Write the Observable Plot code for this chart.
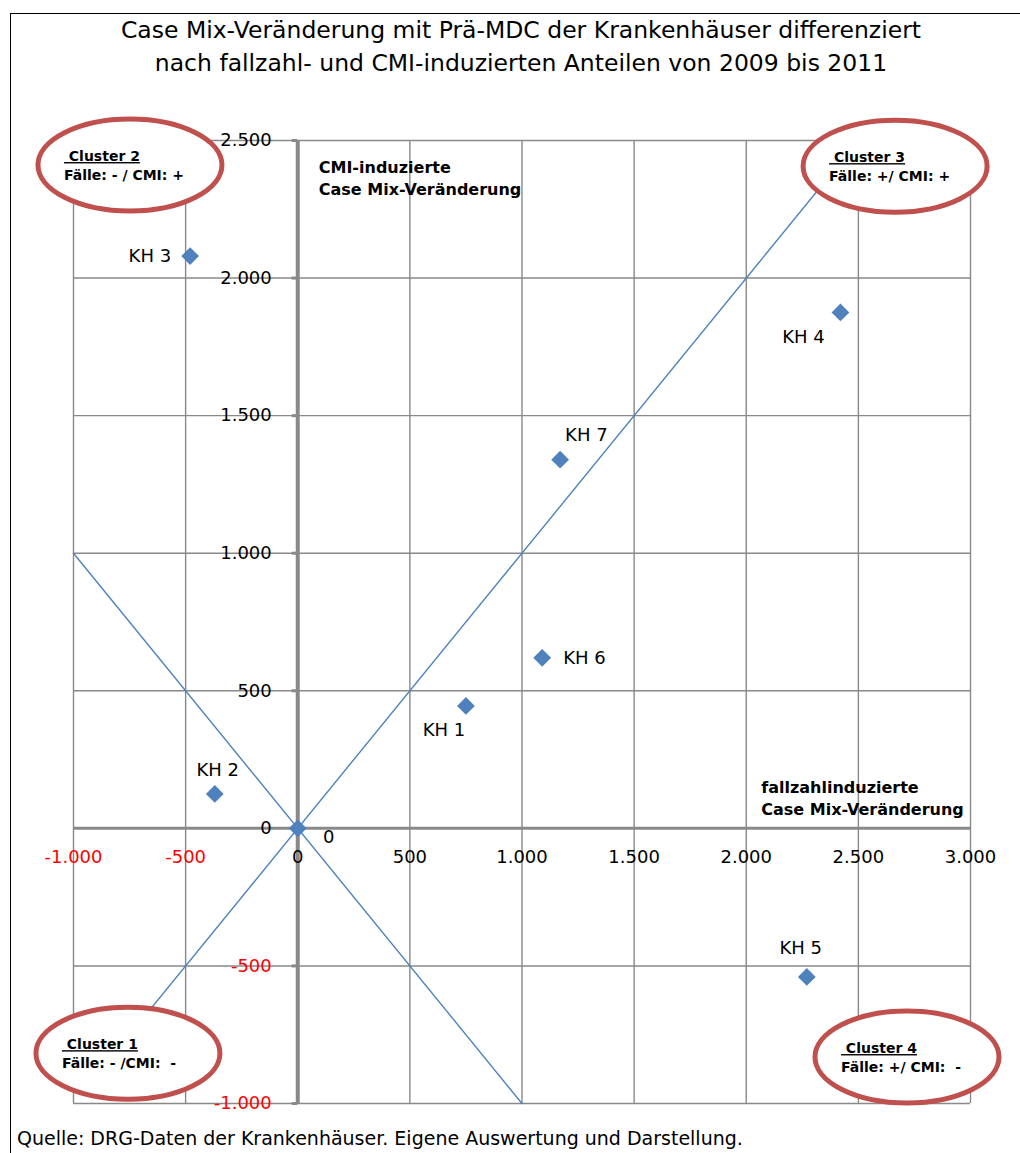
<!DOCTYPE html>
<html><head><meta charset="utf-8">
<script src="https://cdn.jsdelivr.net/npm/d3@7"></script>
<script src="https://cdn.jsdelivr.net/npm/@observablehq/plot@0.6"></script>
<style>
body{margin:0;background:#fff;overflow:hidden;font-family:"DejaVu Sans",sans-serif;}
#wrap{position:relative;width:1020px;height:1153px;overflow:hidden;background:#fff;}
#frame{position:absolute;left:10px;top:13px;width:1100px;height:1300px;border-left:1px solid #000;border-top:1px solid #000;}
#title{position:absolute;left:0;width:1042px;top:14px;text-align:center;font-size:23.5px;line-height:33px;color:#000}
#chart{position:absolute;left:0;top:85px;}
#source{position:absolute;left:17px;top:1127px;font-size:19px;color:#000;white-space:nowrap;}
</style></head>
<body>
<div id="wrap">
  <div id="frame"></div>
  <div id="title">Case Mix-Veränderung mit Prä-MDC der Krankenhäuser differenziert<br>nach fallzahl- und CMI-induzierten Anteilen von 2009 bis 2011</div>
  <div id="chart"></div>
  <div id="source">Quelle: DRG-Daten der Krankenhäuser. Eigene Auswertung und Darstellung.</div>
</div>
<script>
// ---- data ----
const names    = ["KH 1", "KH 2", "KH 3", "KH 4", "KH 5", "KH 6", "KH 7", "0"];
const fallzahl = [750, -370, -480, 2420, 2270, 1090, 1170, 0];   // x: fallzahlinduzierte CMV
const cmi      = [445, 125, 2080, 1875, -540, 620, 1340, 0];     // y: CMI-induzierte CMV

const xTicks = [-1000, -500, 0, 500, 1000, 1500, 2000, 2500, 3000];
const yTicks = [-1000, -500, 0, 500, 1000, 1500, 2000, 2500];

const diagFallX = [-1000, 1000], diagFallY = [1000, -1000];
const diagRiseX = [-800, 2500],  diagRiseY = [-800, 2500];

const clusterNames  = ["Cluster 1", "Cluster 2", "Cluster 3", "Cluster 4"];
const clusterLabels = ["Fälle: - /CMI:  -", "Fälle: - / CMI: +", "Fälle: +/ CMI: +", "Fälle: +/ CMI:  -"];
const clusterX = [-755, -746, 2666, 2719];
const clusterY = [-819, 2409, 2405, -833];

const yTitle = "CMI-induzierte\nCase Mix-Veränderung";
const xTitle = "fallzahlinduzierte\nCase Mix-Veränderung";

// ---- label placement (styling) ----
const labelOffset = {
  "KH 1": [-22, 24, "middle"], "KH 2": [3, -24, "middle"], "KH 3": [-19, 0, "end"],
  "KH 4": [-37, 25, "middle"], "KH 5": [-6, -29, "middle"], "KH 6": [21, 0, "start"],
  "KH 7": [5, -24, "start"], "0": [31, 9, "middle"]
};

const points = names.map((n, i) => ({name: n, x: fallzahl[i], y: cmi[i]}));
const clusters = clusterNames.map((n, i) => ({name: n, label: clusterLabels[i], x: clusterX[i], y: clusterY[i]}));
const lineA = diagFallX.map((x, i) => ({x, y: diagFallY[i]}));
const lineB = diagRiseX.map((x, i) => ({x, y: diagRiseY[i]}));

const de = d3.formatLocale({decimal: ",", thousands: ".", grouping: [3], currency: ["", " €"], minus: "-"});
const fmt = de.format(",d");

const FONT = "DejaVu Sans";
const gridColor = "#898989";
const blue = "#4f81bd";

function labelMarks(anchor) {
  const pts = points.filter(p => labelOffset[p.name][2] === anchor);
  return pts.map(p => Plot.text([p], {
    x: "x", y: "y", text: "name", textAnchor: anchor,
    dx: labelOffset[p.name][0], dy: labelOffset[p.name][1],
    fontSize: 18, fill: "#000"
  }));
}

const ellipses = (index, scales) => {
  const g = d3.create("svg:g").attr("text-anchor", "start");
  for (const c of clusters) {
    const cx = scales.x(c.x), cy = scales.y(c.y);
    g.append("ellipse").attr("cx", cx).attr("cy", cy).attr("rx", 92).attr("ry", 46)
      .attr("fill", "#fff").attr("stroke", "#c0504d").attr("stroke-width", 5);
    g.append("text").attr("x", cx - 66).attr("y", cy - 4).attr("text-anchor", "start")
      .attr("font-family", FONT).attr("font-weight", "bold").attr("font-size", 14)
      .attr("text-decoration", "underline").attr("fill", "#000")
      .attr("xml:space", "preserve").text("\u00a0" + c.name);
    g.append("text").attr("x", cx - 66).attr("y", cy + 15).attr("text-anchor", "start")
      .attr("font-family", FONT).attr("font-weight", "bold").attr("font-size", 14)
      .attr("fill", "#000").attr("xml:space", "preserve").text(c.label);
  }
  return g.node();
};

const chart = Plot.plot({
  width: 1020, height: 1050,
  marginLeft: 73, marginRight: 50, marginTop: 55, marginBottom: 32,
  style: {fontFamily: FONT, background: "transparent", overflow: "visible"},
  x: {type: "linear", domain: [-1000, 3000], axis: null},
  y: {type: "linear", domain: [-1000, 2500], axis: null},
  marks: [
    Plot.ruleX(xTicks.filter(d => d !== 0), {x: d => d, stroke: gridColor, strokeWidth: 1.4}),
    Plot.ruleY(yTicks.filter(d => d !== 0), {y: d => d, stroke: gridColor, strokeWidth: 1.4}),
    Plot.ruleY([0], {y: d => d, stroke: gridColor, strokeWidth: 3}),
    Plot.ruleX([0], {x: d => d, stroke: gridColor, strokeWidth: 4}),
    Plot.ruleY(yTicks, {y: d => d, x1: -25, x2: 0, stroke: gridColor, strokeWidth: 3}),
    Plot.line(lineA, {x: "x", y: "y", stroke: blue, strokeWidth: 1.4}),
    Plot.line(lineB, {x: "x", y: "y", stroke: blue, strokeWidth: 1.4}),
    Plot.dot(points, {x: "x", y: "y", symbol: "diamond2", r: 8, fill: blue, stroke: null}),
    ...labelMarks("middle"), ...labelMarks("start"), ...labelMarks("end"),
    // x tick labels
    Plot.text(xTicks.filter(d => d < 0), {x: d => d, y: 0, dy: 29, text: d => fmt(d), fill: "#ff0000", fontSize: 18}),
    Plot.text(xTicks.filter(d => d >= 0), {x: d => d, y: 0, dy: 29, text: d => fmt(d), fill: "#000", fontSize: 18}),
    // y tick labels
    Plot.text(yTicks.filter(d => d < 0), {x: 0, y: d => d, dx: -26, textAnchor: "end", text: d => fmt(d), fill: "#ff0000", fontSize: 18}),
    Plot.text(yTicks.filter(d => d >= 0), {x: 0, y: d => d, dx: -26, textAnchor: "end", text: d => fmt(d), fill: "#000", fontSize: 18}),
    // axis titles
    Plot.text([yTitle], {x: 0, y: 2500, dx: 21, dy: 17, text: d => d, textAnchor: "start", lineAnchor: "top", lineHeight: 1.38, fontWeight: "bold", fontSize: 16, fill: "#000"}),
    Plot.text([xTitle], {x: 2000, y: 0, dx: 15, dy: -13, text: d => d, textAnchor: "start", lineAnchor: "bottom", lineHeight: 1.38, fontWeight: "bold", fontSize: 16, fill: "#000"}),
    ellipses
  ]
});
document.getElementById("chart").appendChild(chart);
</script>
</body></html>
